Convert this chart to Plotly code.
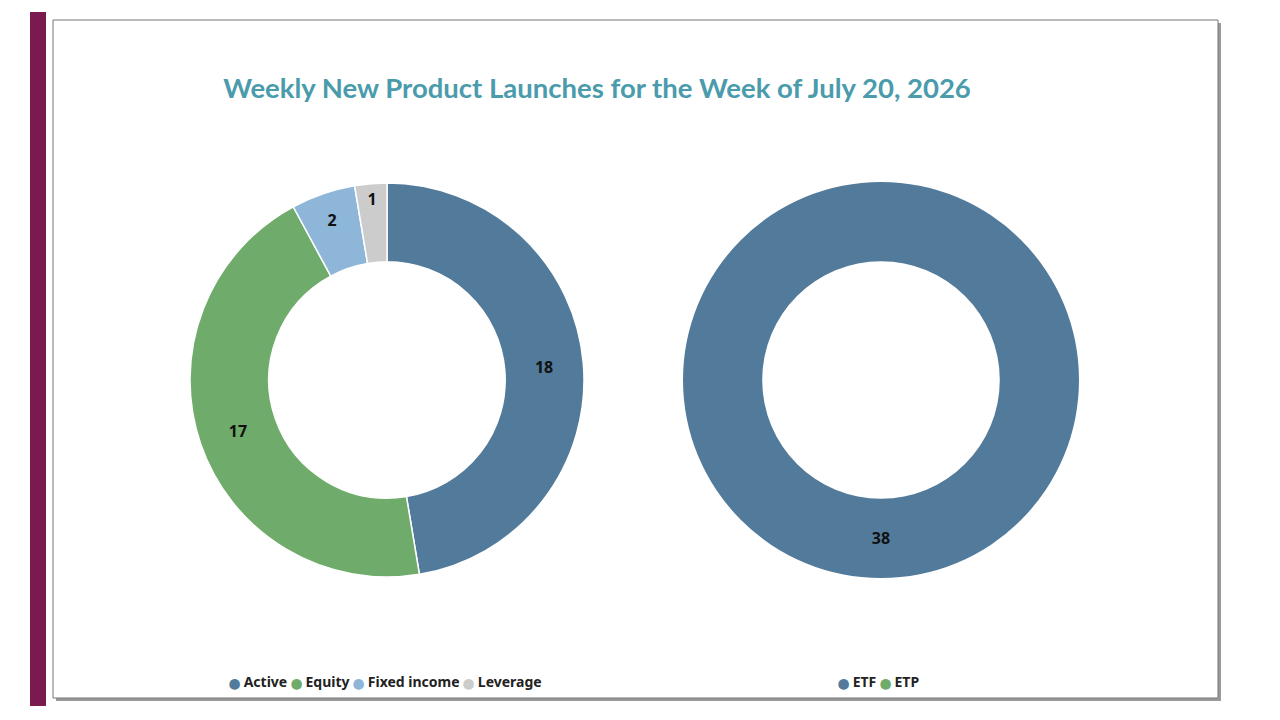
import plotly.graph_objects as go

cat1 = ["Active", "Equity", "Fixed income", "Leverage"]
val1 = [18, 17, 2, 1]
col1 = ["#527a9b", "#6fac6b", "#8db6d9", "#cccccc"]
cat2 = ["ETF", "ETP"]
val2 = [38, 0]
col2 = ["#527a9b", "#6fac6b"]
title = "Weekly New Product Launches for the Week of July 20, 2026"

W, H = 1280, 720
O = 8  # page body margin offset
def X(x): return (x - O) / W
def Y(y): return 1 - (y - O) / H
def px(x0, x1): return [X(x0), X(x1)]
def py(y0, y1): return [Y(y1), Y(y0)]

fig = go.Figure()
common = dict(hole=0.6, sort=False, direction="clockwise", rotation=0,
              textinfo="value", textposition="inside", insidetextorientation="horizontal",
              textfont=dict(family="Noto Sans", size=16, color="#111111", weight="bold"),
              hoverinfo="label+value", showlegend=False)
fig.add_trace(go.Pie(labels=cat1, values=val1, marker=dict(colors=col1, line=dict(color="white", width=1.5)),
                     domain=dict(x=px(190, 584), y=py(183, 577)), **common))
fig.add_trace(go.Pie(labels=cat2, values=val2, marker=dict(colors=col2, line=dict(width=0)),
                     domain=dict(x=px(683, 1079), y=py(182, 578)), **common))

def legend_text(cats, cols):
    return " ".join(f"<span style='color:{c};font-size:10px'>⬤</span> {t}" for t, c in zip(cats, cols))

shapes = [
    dict(type="rect", xref="paper", yref="paper", x0=X(30), x1=X(46), y0=Y(706), y1=Y(12),
         fillcolor="#7a1a4f", line_width=0, layer="below"),
    dict(type="rect", xref="paper", yref="paper", x0=X(56), x1=X(1221), y0=Y(701), y1=Y(23),
         fillcolor="#9a9a9a", line_width=0, layer="below"),
    dict(type="rect", xref="paper", yref="paper", x0=X(53), x1=X(1218), y0=Y(698), y1=Y(20),
         fillcolor="white", line=dict(color="#777777", width=1), layer="below"),
]
lf = dict(family="Noto Sans", size=14, color="#222222", weight="bold")
annotations = [
    dict(text=legend_text(cat1, col1), x=X(385), y=Y(681), xref="paper", yref="paper",
         xanchor="center", yanchor="middle", showarrow=False, font=lf),
    dict(text=legend_text(cat2, col2), x=X(878), y=Y(681), xref="paper", yref="paper",
         xanchor="center", yanchor="middle", showarrow=False, font=lf),
]
fig.update_layout(
    width=W, height=H, margin=dict(l=0, r=0, t=0, b=0),
    paper_bgcolor="white", plot_bgcolor="white", shapes=shapes, annotations=annotations,
    title=dict(text=title, x=X(597), xanchor="center", y=Y(88), yanchor="middle",
               font=dict(family="Lato", size=27.5, color="#4a9bab", weight="bold")),
)
fig.write_html("out.html")
